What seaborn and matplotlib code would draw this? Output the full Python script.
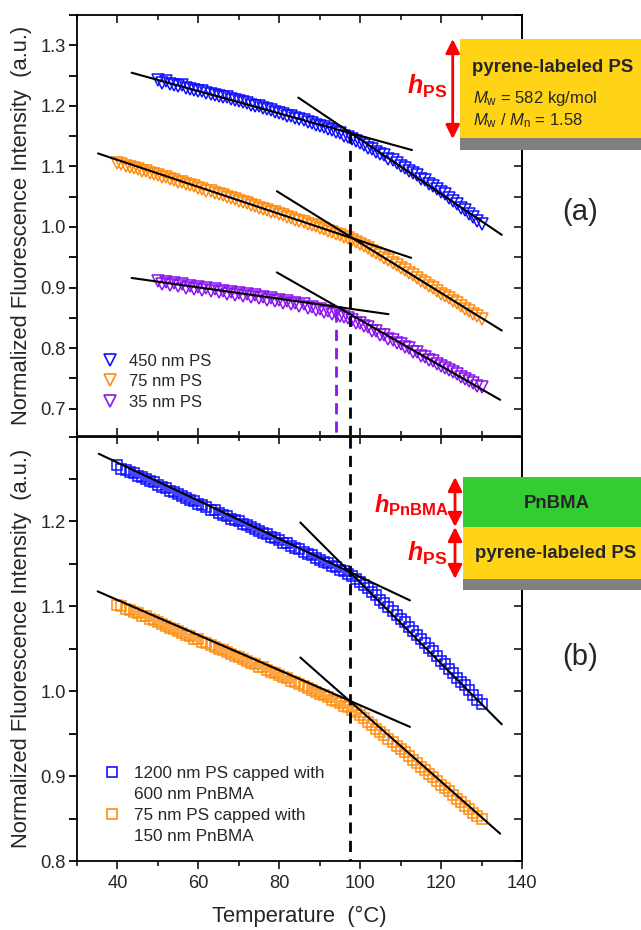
import matplotlib
matplotlib.use("Agg")
import matplotlib.pyplot as plt
import seaborn as sns
import pandas as pd
from matplotlib.lines import Line2D
from matplotlib.patches import Rectangle, FancyArrowPatch
from matplotlib.ticker import MultipleLocator, FormatStrFormatter

# ---------------- data ----------------
# panel (a): single pyrene-labeled PS films
temp_a_450 = list(range(50, 131))
int_a_450 = [1.242, 1.238, 1.241, 1.236, 1.235, 1.233, 1.234, 1.229, 1.228, 1.226,
             1.225, 1.224, 1.221, 1.220, 1.218, 1.217, 1.214, 1.214, 1.211, 1.209,
             1.208, 1.206, 1.205, 1.202, 1.200, 1.199, 1.197, 1.194, 1.193, 1.190,
             1.189, 1.187, 1.184, 1.183, 1.180, 1.178, 1.177, 1.173, 1.172, 1.168,
             1.167, 1.165, 1.162, 1.160, 1.157, 1.155, 1.151, 1.148, 1.146, 1.142,
             1.139, 1.136, 1.131, 1.129, 1.124, 1.121, 1.118, 1.113, 1.110, 1.105,
             1.101, 1.098, 1.093, 1.089, 1.085, 1.080, 1.077, 1.071, 1.068, 1.062,
             1.058, 1.054, 1.048, 1.043, 1.038, 1.032, 1.028, 1.021, 1.016, 1.010,
             1.005]

temp_a_75 = list(range(40, 131))
int_a_75 = [1.105, 1.104, 1.100, 1.099, 1.097, 1.096, 1.093, 1.092, 1.089, 1.088,
            1.086, 1.083, 1.082, 1.079, 1.077, 1.075, 1.074, 1.071, 1.069, 1.067,
            1.065, 1.063, 1.060, 1.059, 1.056, 1.054, 1.052, 1.050, 1.047, 1.046,
            1.043, 1.041, 1.039, 1.036, 1.035, 1.032, 1.030, 1.028, 1.025, 1.024,
            1.021, 1.019, 1.016, 1.015, 1.012, 1.010, 1.008, 1.005, 1.003, 1.001,
            0.998, 0.996, 0.993, 0.991, 0.989, 0.986, 0.983, 0.981, 0.978, 0.975,
            0.972, 0.968, 0.965, 0.961, 0.957, 0.953, 0.949, 0.945, 0.940, 0.937,
            0.932, 0.929, 0.924, 0.920, 0.916, 0.911, 0.908, 0.903, 0.899, 0.895,
            0.890, 0.886, 0.882, 0.877, 0.874, 0.869, 0.865, 0.861, 0.856, 0.853,
            0.848]

temp_a_35 = list(range(50, 131))
int_a_35 = [0.910, 0.906, 0.909, 0.904, 0.907, 0.902, 0.905, 0.900, 0.903, 0.898,
            0.901, 0.896, 0.899, 0.894, 0.897, 0.892, 0.895, 0.890, 0.893, 0.888,
            0.891, 0.886, 0.889, 0.884, 0.887, 0.882, 0.885, 0.880, 0.882, 0.877,
            0.880, 0.875, 0.877, 0.872, 0.874, 0.869, 0.872, 0.866, 0.868, 0.863,
            0.865, 0.860, 0.862, 0.857, 0.858, 0.853, 0.852, 0.849, 0.847, 0.842,
            0.841, 0.836, 0.834, 0.829, 0.828, 0.822, 0.821, 0.815, 0.814, 0.808,
            0.807, 0.801, 0.800, 0.794, 0.793, 0.787, 0.786, 0.780, 0.779, 0.773,
            0.771, 0.767, 0.764, 0.760, 0.757, 0.752, 0.749, 0.745, 0.742, 0.738,
            0.735]

# panel (b): PS films capped with PnBMA
temp_b_1200 = list(range(40, 131))
int_b_1200 = [1.266, 1.262, 1.261, 1.258, 1.257, 1.254, 1.252, 1.250, 1.247, 1.246,
              1.243, 1.241, 1.239, 1.236, 1.235, 1.232, 1.230, 1.228, 1.225, 1.224,
              1.221, 1.219, 1.217, 1.214, 1.213, 1.210, 1.208, 1.206, 1.203, 1.202,
              1.200, 1.197, 1.196, 1.193, 1.191, 1.189, 1.186, 1.185, 1.182, 1.180,
              1.178, 1.175, 1.174, 1.171, 1.169, 1.167, 1.164, 1.162, 1.160, 1.157,
              1.155, 1.152, 1.151, 1.148, 1.146, 1.143, 1.141, 1.138, 1.136, 1.132,
              1.129, 1.125, 1.122, 1.117, 1.113, 1.108, 1.104, 1.099, 1.095, 1.090,
              1.085, 1.081, 1.076, 1.071, 1.066, 1.061, 1.057, 1.051, 1.047, 1.041,
              1.036, 1.032, 1.026, 1.022, 1.016, 1.011, 1.007, 1.001, 0.996, 0.990,
              0.985]

temp_b_75 = list(range(40, 131))
int_b_75 = [1.101, 1.100, 1.097, 1.096, 1.093, 1.092, 1.089, 1.088, 1.085, 1.084,
            1.081, 1.079, 1.077, 1.075, 1.073, 1.071, 1.069, 1.066, 1.065, 1.062,
            1.061, 1.058, 1.057, 1.054, 1.052, 1.050, 1.048, 1.046, 1.044, 1.042,
            1.040, 1.038, 1.036, 1.033, 1.032, 1.029, 1.028, 1.025, 1.023, 1.021,
            1.019, 1.017, 1.015, 1.012, 1.011, 1.008, 1.006, 1.004, 1.002, 0.999,
            0.997, 0.995, 0.993, 0.990, 0.988, 0.986, 0.983, 0.981, 0.978, 0.975,
            0.972, 0.968, 0.964, 0.960, 0.956, 0.952, 0.948, 0.944, 0.940, 0.936,
            0.932, 0.928, 0.924, 0.919, 0.915, 0.911, 0.907, 0.903, 0.899, 0.894,
            0.890, 0.886, 0.882, 0.878, 0.873, 0.869, 0.865, 0.861, 0.857, 0.853,
            0.849]

# linear fits (glassy / melt branches): [T_start, T_end], [I_start, I_end]
fit_a_450_glass_T, fit_a_450_glass_I = [43.5, 112.8], [1.2547, 1.127]
fit_a_450_melt_T, fit_a_450_melt_I = [84.7, 135.0], [1.2136, 0.987]
fit_a_75_glass_T, fit_a_75_glass_I = [35.2, 112.6], [1.1214, 0.949]
fit_a_75_melt_T, fit_a_75_melt_I = [79.4, 135.0], [1.059, 0.829]
fit_a_35_glass_T, fit_a_35_glass_I = [43.5, 107.0], [0.9158, 0.856]
fit_a_35_melt_T, fit_a_35_melt_I = [79.4, 134.6], [0.925, 0.7146]
fit_b_1200_glass_T, fit_b_1200_glass_I = [35.4, 112.3], [1.2796, 1.107]
fit_b_1200_melt_T, fit_b_1200_melt_I = [85.2, 135.0], [1.1987, 0.961]
fit_b_75_glass_T, fit_b_75_glass_I = [35.1, 112.3], [1.1176, 0.958]
fit_b_75_melt_T, fit_b_75_melt_I = [85.2, 134.6], [1.0397, 0.8322]

tg_bulk = 97.5        # common Tg (black dashed line)
tg_bulk_top_I = 1.156
tg_35 = 94.0          # Tg of 35 nm film (purple dashed line)
tg_35_top_I = 0.862

labels_a = ["450 nm PS", "75 nm PS", "35 nm PS"]
labels_b = ["1200 nm PS capped with", "600 nm PnBMA",
            "75 nm PS capped with", "150 nm PnBMA"]

xticks = [40, 60, 80, 100, 120, 140]
yticks_a = [0.7, 0.8, 0.9, 1.0, 1.1, 1.2, 1.3]
yticks_b = [0.8, 0.9, 1.0, 1.1, 1.2]

# ---------------- style ----------------
BLUE = "#1010FF"
ORANGE = "#FF8C10"
PURPLE = "#8A14EE"
RED = "#FF0000"
YELLOW = "#FFD316"
GREEN = "#33CC33"
GRAY = "#808080"

sns.set_style("ticks")
plt.rcParams["font.family"] = ["Liberation Sans", "DejaVu Sans"]
plt.rcParams["mathtext.fontset"] = "custom"
plt.rcParams["mathtext.rm"] = "Liberation Sans"
plt.rcParams["mathtext.it"] = "Liberation Sans:italic"
plt.rcParams["mathtext.bf"] = "Liberation Sans:bold"
plt.rcParams["mathtext.bfit"] = "Liberation Sans:italic:bold"

W, H = 641, 930
fig = plt.figure(figsize=(W / 100, H / 100), dpi=100)


def fx(px):
    return px / W


def fy(py):
    return 1 - py / H


axA = fig.add_axes([fx(77), fy(436.5), fx(522) - fx(77), fy(15) - fy(436.5)])
axB = fig.add_axes([fx(77), fy(861), fx(522) - fx(77), fy(436.5) - fy(861)])

TICK_FS = 13.2
LABEL_FS = 15.8
SPINE_LW = 1.3


def scatter(ax, T, I, marker, color, ms):
    df = pd.DataFrame({"T": T, "I": I})
    sns.lineplot(data=df, x="T", y="I", ax=ax, linestyle="none", marker=marker,
                 markersize=ms, markerfacecolor="none", markeredgecolor=color,
                 markeredgewidth=1.1, color=color, errorbar=None, zorder=2)


def fitline(ax, T, I):
    df = pd.DataFrame({"T": T, "I": I})
    sns.lineplot(data=df, x="T", y="I", ax=ax, color="black", linewidth=1.5,
                 errorbar=None, zorder=4)


# panel (a)
scatter(axA, temp_a_450, int_a_450, "v", BLUE, 8.5)
scatter(axA, temp_a_75, int_a_75, "v", ORANGE, 8.5)
scatter(axA, temp_a_35, int_a_35, "v", PURPLE, 8.5)
for T, I in [(fit_a_450_glass_T, fit_a_450_glass_I), (fit_a_450_melt_T, fit_a_450_melt_I),
             (fit_a_75_glass_T, fit_a_75_glass_I), (fit_a_75_melt_T, fit_a_75_melt_I),
             (fit_a_35_glass_T, fit_a_35_glass_I), (fit_a_35_melt_T, fit_a_35_melt_I)]:
    fitline(axA, T, I)

ylimA = (0.654, 1.35)
ylimB = (0.8, 1.3)
DASH = (0, (4, 2.6))
axA.plot([tg_bulk, tg_bulk], [tg_bulk_top_I, ylimA[0]], color="black", lw=2.0,
         linestyle=DASH, zorder=5)
axA.plot([tg_35, tg_35], [tg_35_top_I, ylimA[0]], color=PURPLE, lw=2.0,
         linestyle=DASH, zorder=5)

# panel (b)
scatter(axB, temp_b_1200, int_b_1200, "s", BLUE, 7)
scatter(axB, temp_b_75, int_b_75, "s", ORANGE, 7)
for T, I in [(fit_b_1200_glass_T, fit_b_1200_glass_I), (fit_b_1200_melt_T, fit_b_1200_melt_I),
             (fit_b_75_glass_T, fit_b_75_glass_I), (fit_b_75_melt_T, fit_b_75_melt_I)]:
    fitline(axB, T, I)
axB.plot([tg_bulk, tg_bulk], [ylimB[1], ylimB[0]], color="black", lw=2.0,
         linestyle=DASH, zorder=5)

# ---------------- axes formatting ----------------
for ax, ylim, yt in [(axA, ylimA, yticks_a), (axB, ylimB, yticks_b)]:
    ax.set_xlim(30, 140)
    ax.set_ylim(*ylim)
    ax.set_xticks(xticks)
    ax.xaxis.set_minor_locator(MultipleLocator(10))
    ax.set_yticks(yt)
    ax.yaxis.set_minor_locator(MultipleLocator(0.05))
    ax.yaxis.set_major_formatter(FormatStrFormatter("%.1f"))
    for sp in ax.spines.values():
        sp.set_visible(True)
        sp.set_linewidth(SPINE_LW)
        sp.set_color("black")
    ax.tick_params(axis="y", which="both", direction="out", left=True, right=False,
                   length=6, width=SPINE_LW, labelsize=TICK_FS, pad=2, color="black")
    ax.set_ylabel("Normalized Fluorescence Intensity  (a.u.)", fontsize=LABEL_FS)
    ax.yaxis.set_label_coords(-0.1, 0.5)
    sec = ax.secondary_yaxis("right")
    sec.set_yticks(yt)
    sec.yaxis.set_minor_locator(MultipleLocator(0.05))
    sec.tick_params(axis="y", which="both", direction="in", length=6,
                    width=SPINE_LW, labelright=False)
    sec.spines["right"].set_linewidth(SPINE_LW)

# panel (a): x ticks inward both sides, no labels
axA.tick_params(axis="x", which="major", direction="in", top=True, bottom=True,
                length=6, width=SPINE_LW, labelbottom=False)
axA.tick_params(axis="x", which="minor", direction="in", top=True, bottom=True,
                length=3.5, width=SPINE_LW)
axA.set_xlabel("")

# panel (b): bottom ticks out, top ticks in
axB.tick_params(axis="x", which="major", direction="out", top=False, bottom=True,
                length=6, width=SPINE_LW, labelsize=TICK_FS, pad=4)
axB.tick_params(axis="x", which="minor", direction="out", top=False, bottom=True,
                length=3.5, width=SPINE_LW)
secx = axB.secondary_xaxis("top")
secx.set_xticks(xticks)
secx.xaxis.set_minor_locator(MultipleLocator(10))
secx.tick_params(axis="x", which="major", direction="in", length=6, width=SPINE_LW,
                 labeltop=False)
secx.tick_params(axis="x", which="minor", direction="in", length=3.5, width=SPINE_LW)
secx.spines["top"].set_linewidth(SPINE_LW)
axB.set_xlabel("Temperature  (°C)", fontsize=LABEL_FS, labelpad=10)

# ---------------- legends ----------------
hA = [Line2D([], [], marker="v", ls="none", mfc="none", mec=c, mew=1.2, ms=9)
      for c in (BLUE, ORANGE, PURPLE)]
legA = axA.legend(hA, labels_a, loc="upper left",
                  bbox_to_anchor=((101.7 - 77) / 445, (436.5 - 354) / 421.5),
                  frameon=False, fontsize=12, handlelength=1.0, handletextpad=0.63,
                  labelspacing=0.32, borderpad=0, borderaxespad=0)

hB = [Line2D([], [], marker="s", ls="none", mfc="none", mec=BLUE, mew=1.2, ms=6.5),
      Line2D([], [], ls="none"),
      Line2D([], [], marker="s", ls="none", mfc="none", mec=ORANGE, mew=1.2, ms=6.5),
      Line2D([], [], ls="none")]
legB = axB.legend(hB, labels_b, loc="upper left",
                  bbox_to_anchor=((103.7 - 77) / 445, (861 - 766) / 424.5),
                  frameon=False, fontsize=12.3, handlelength=1.0, handletextpad=0.75,
                  labelspacing=0.36, borderpad=0, borderaxespad=0)

# ---------------- schematics (figure annotations) ----------------
def rect(x0, y0, x1, y1, color):
    fig.add_artist(Rectangle((fx(x0), fy(y1)), fx(x1) - fx(x0), fy(y0) - fy(y1),
                             transform=fig.transFigure, facecolor=color,
                             edgecolor="none", zorder=10))


def arrow(x, y0, y1):
    fig.add_artist(FancyArrowPatch((fx(x), fy(y1)), (fx(x), fy(y0)),
                                   transform=fig.transFigure,
                                   arrowstyle="<|-|>,head_length=0.6,head_width=0.3",
                                   mutation_scale=14, lw=2, color=RED,
                                   shrinkA=0, shrinkB=0, zorder=11))


# (a) schematic
rect(460, 39, 641, 138, YELLOW)
rect(460, 138, 641, 150, GRAY)
arrow(452.7, 39, 139)
fig.text(fx(472), fy(68), "pyrene-labeled PS", fontsize=13.4, fontweight="bold",
         ha="left", va="center", zorder=12)
fig.text(fx(473), fy(99), r"$M_{\mathrm{w}}$ = 582 kg/mol", fontsize=12,
         ha="left", va="center", zorder=12)
fig.text(fx(473), fy(121), r"$M_{\mathrm{w}}$ / $M_{\mathrm{n}}$ = 1.58", fontsize=12,
         ha="left", va="center", zorder=12)
fig.text(fx(447), fy(86), r"$\mathbfit{h}_{\mathbf{PS}}$", fontsize=18, color=RED,
         ha="right", va="center", zorder=12)
fig.text(fx(580), fy(212), "(a)", fontsize=21, ha="center", va="center")

# (b) schematic
rect(463, 477, 641, 527, GREEN)
rect(463, 527, 641, 579, YELLOW)
rect(463, 579, 641, 590, GRAY)
arrow(455, 477, 527)
arrow(455, 527, 579)
fig.text(fx(557), fy(503), "PnBMA", fontsize=13.4, fontweight="bold",
         ha="center", va="center", zorder=12)
fig.text(fx(475), fy(554), "pyrene-labeled PS", fontsize=13.4, fontweight="bold",
         ha="left", va="center", zorder=12)
fig.text(fx(449), fy(505), r"$\mathbfit{h}_{\mathbf{PnBMA}}$", fontsize=17, color=RED,
         ha="right", va="center", zorder=12)
fig.text(fx(447), fy(553), r"$\mathbfit{h}_{\mathbf{PS}}$", fontsize=18, color=RED,
         ha="right", va="center", zorder=12)
fig.text(fx(580), fy(657), "(b)", fontsize=21, ha="center", va="center")

fig.savefig("out.png", dpi=100)
